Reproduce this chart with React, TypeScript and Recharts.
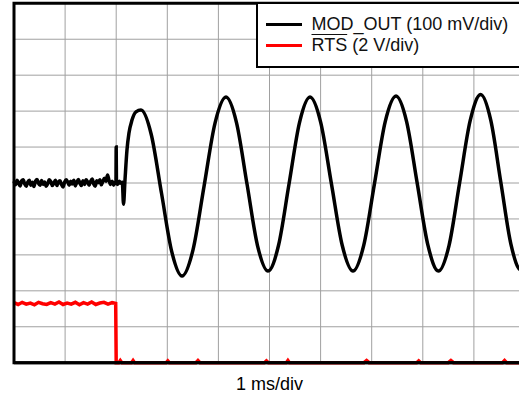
import { CartesianGrid, Label, Legend, Line, LineChart, ReferenceArea, XAxis, YAxis } from "recharts";

// Scope capture: x in ms (1 ms/div), y in screen divisions (0 = bottom edge).
const FONT = '"Liberation Sans", Arial, sans-serif';
const divTicks = [0, 1, 2, 3, 4, 5, 6, 7, 8, 9, 10];

const modTime = [
  0, 0.03, 0.06, 0.09, 0.12, 0.15, 0.18, 0.21, 0.24, 0.27, 0.3, 0.33, 0.36, 0.39, 0.42, 0.45, 0.48,
  0.51, 0.54, 0.57, 0.6, 0.63, 0.66, 0.69, 0.72, 0.75, 0.78, 0.81, 0.84, 0.87, 0.9, 0.93, 0.96, 0.99,
  1.02, 1.05, 1.08, 1.11, 1.14, 1.17, 1.2, 1.23, 1.26, 1.29, 1.32, 1.35, 1.38, 1.41, 1.44, 1.47, 1.5,
  1.53, 1.56, 1.59, 1.62, 1.65, 1.68, 1.71, 1.74, 1.77, 1.8, 1.83, 1.86, 1.89, 1.92, 1.95, 1.98,
  1.995, 2.0, 2.005, 2.03, 2.06, 2.09, 2.12,
  2.143, 2.172, 2.211, 2.25, 2.309, 2.387, 2.485, 2.686, 2.886, 3.087, 3.288, 3.503, 3.718, 3.933,
  4.149, 4.354, 4.56, 4.765, 4.971, 5.176, 5.382, 5.587, 5.793, 6.003, 6.213, 6.424, 6.634, 6.845,
  7.055, 7.265, 7.476, 7.683, 7.891, 8.1, 8.307, 8.513, 8.72, 8.928, 9.133, 9.331, 9.527, 9.724,
  9.922, 10,
];
const modLevel = [
  5.05, 4.95, 5.08, 4.99, 4.92, 5.06, 5.09, 4.97, 4.91, 5.03, 5.08, 4.94, 5.02, 4.9, 5.05, 5.1, 4.99,
  4.94, 5.07, 4.96, 5.03, 4.91, 4.98, 5.09, 5.04, 4.93, 5.0, 5.08, 4.93, 5.03, 5.06, 4.96, 4.89, 5.02,
  5.09, 5.03, 4.94, 5.05, 4.97, 5.08, 4.92, 5.02, 5.1, 4.99, 4.93, 5.06, 4.96, 5.09, 5.03, 4.94, 5.05,
  5.11, 4.97, 4.91, 5.06, 5.01, 5.09, 4.95, 5.05, 5.13, 5.05, 5.22, 5.07, 4.96, 5.05, 4.94, 5.03,
  5.03, 6.0, 5.0, 4.96, 5.05, 4.99, 5.02,
  4.41, 5.08, 5.92, 6.39, 6.75, 6.98, 7.03, 6.35, 4.72, 3.09, 2.41, 3.14, 4.9, 6.66,
  7.39, 6.68, 4.97, 3.26, 2.55, 3.26, 4.97, 6.68, 7.39, 6.68, 4.97, 3.26, 2.55, 3.27,
  4.99, 6.71, 7.42, 6.71, 4.99, 3.27, 2.55, 3.26, 5.0, 6.74, 7.46, 6.74, 5.02, 3.3,
  2.58, 2.69,
];

const rtsTime = [
  0, 0.08, 0.16, 0.24, 0.32, 0.4, 0.48, 0.56, 0.64, 0.72, 0.8, 0.88, 0.96, 1.04, 1.12, 1.2, 1.28, 1.36,
  1.44, 1.52, 1.6, 1.68, 1.76, 1.84, 1.92, 1.99,
  2.0, 2.05, 2.08, 2.11, 2.3, 2.33, 2.36, 2.98, 3.01, 3.04, 3.56, 3.6, 3.64, 4.9, 4.94, 4.98, 5.33,
  5.36, 5.39, 6.85, 6.9, 6.95, 7.88, 7.92, 7.96, 8.5, 8.55, 8.6, 9.56, 9.6, 9.64, 10,
];
const rtsLevel = [
  1.67, 1.62, 1.68, 1.63, 1.66, 1.61, 1.68, 1.64, 1.62, 1.67, 1.63, 1.69, 1.62, 1.66, 1.63, 1.68, 1.61, 1.67,
  1.63, 1.69, 1.62, 1.66, 1.68, 1.63, 1.67, 1.65,
  0, 0, 0.06, 0, 0, 0.06, 0, 0, 0.05, 0, 0, 0.06, 0, 0, 0.05, 0, 0,
  0.06, 0, 0, 0.06, 0, 0, 0.05, 0, 0, 0.06, 0, 0, 0.06, 0, 0,
];

const modData = modTime.map((t, i) => ({ t, v: modLevel[i] }));
const rtsData = rtsTime.map((t, i) => ({ t, v: rtsLevel[i] }));

const barred = ["RTS"];

function ScopeLegend({ payload }: any) {
  return (
    <div
      style={{
        boxSizing: "border-box",
        width: 300,
        height: 66,
        border: "2.5px solid #000",
        background: "#fff",
        padding: "10px 0 0 8px",
        fontFamily: FONT,
        fontSize: 18,
        color: "#111",
      }}
    >
      {(payload ?? []).map((entry: any) => {
        const label: string = entry.value;
        const word = barred.find((w) => label.startsWith(w));
        return (
          <div key={label} style={{ display: "flex", alignItems: "center", height: 21, lineHeight: "21px" }}>
            <span style={{ width: 36, height: 3, background: entry.color, marginRight: 10 }} />
            <span style={{ whiteSpace: "nowrap" }}>
              {word ? (
                <>
                  <span style={{ textDecoration: "overline" }}>{word}</span>
                  {label.slice(word.length)}
                </>
              ) : (
                label
              )}
            </span>
          </div>
        );
      })}
    </div>
  );
}

export default function App() {
  return (
    <div style={{ position: "absolute", left: 0, top: 0, width: 519, height: 397, overflow: "hidden", background: "#fff" }}>
      <LineChart width={540} height={397} margin={{ top: 3.3, right: 15, bottom: 0, left: 14 }}>
        <CartesianGrid stroke="#a0a0a0" strokeWidth={1} />
        <XAxis
          dataKey="t"
          type="number"
          domain={[0, 10]}
          ticks={divTicks}
          tick={() => <g />}
          tickLine={false}
          axisLine={{ stroke: "#000", strokeWidth: 3 }}
          height={34.3}
        >
          <Label value="1 ms/div" position="insideBottom" offset={7} style={{ fontSize: 18, fill: "#000", fontFamily: FONT }} />
        </XAxis>
        <YAxis type="number" domain={[0, 10]} ticks={divTicks} hide />
        <Line
          data={rtsData}
          dataKey="v"
          name="RTS (2 V/div)"
          type="linear"
          stroke="#ff0000"
          strokeWidth={3.5}
          dot={false}
          isAnimationActive={false}
        />
        <Line
          data={modData}
          dataKey="v"
          name="MOD_OUT (100 mV/div)"
          type="monotone"
          stroke="#000"
          strokeWidth={3.5}
          dot={false}
          isAnimationActive={false}
        />
        <ReferenceArea
          x1={0}
          x2={10}
          y1={0}
          y2={10}
          fill="none"
          stroke="#000"
          strokeWidth={3}
          ifOverflow="visible"
          zIndex={900}
        />
        <Legend
          layout="horizontal"
          verticalAlign="middle"
          itemSorter="value"
          content={<ScopeLegend />}
          wrapperStyle={{ left: 255.5, top: 2, width: 300, height: 66 }}
        />
      </LineChart>
    </div>
  );
}
